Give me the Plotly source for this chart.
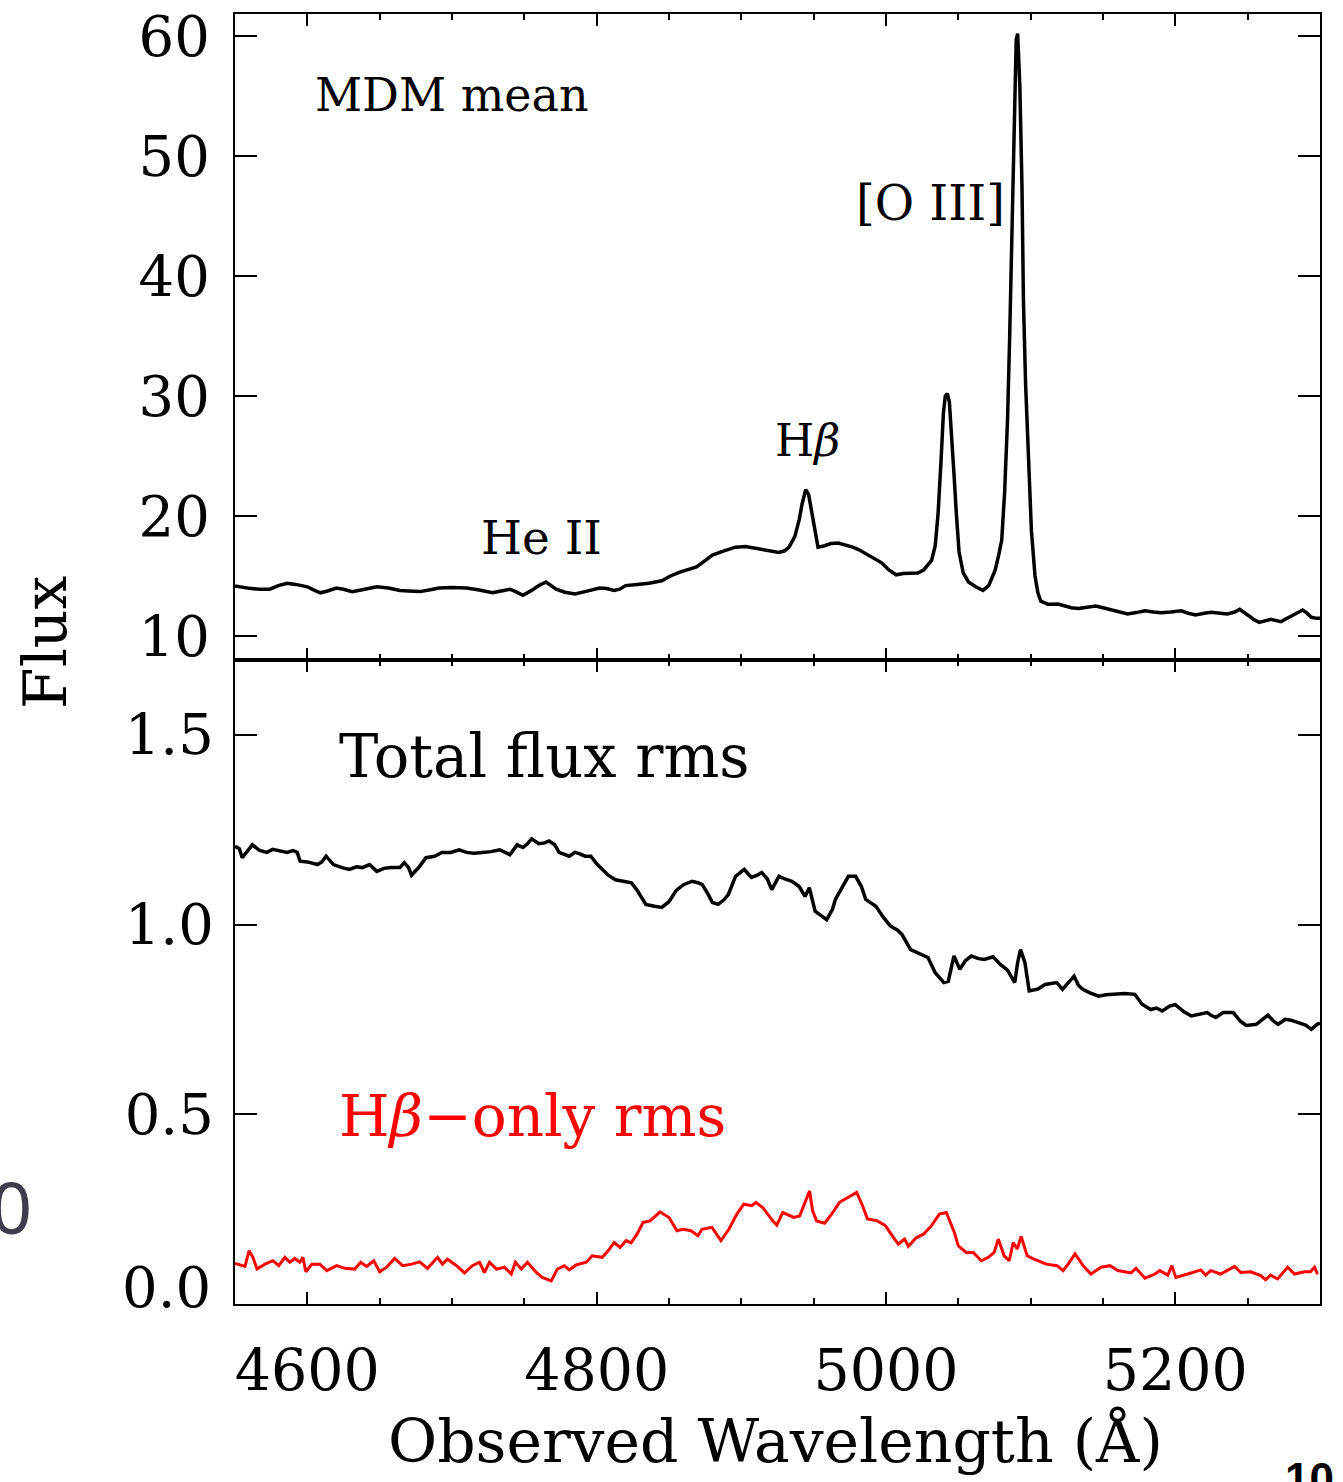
import plotly.graph_objects as go

# ---------------- data ----------------
mean_wave = [4550, 4555, 4560, 4567, 4574, 4580, 4586, 4592, 4600, 4605, 4609, 4614, 4620, 4625, 4631,
             4638, 4648, 4656, 4664, 4670, 4678, 4685, 4691, 4700, 4710, 4718, 4728, 4734, 4740, 4744,
             4749, 4755, 4760, 4765, 4769, 4772, 4778, 4785, 4792, 4802, 4807, 4812, 4816, 4820, 4828,
             4836, 4845, 4851, 4857, 4863, 4869, 4874, 4880, 4888, 4896, 4903, 4910, 4918, 4926, 4930,
             4933, 4937, 4940, 4942, 4944.5, 4946.5, 4948.6, 4951, 4953, 4957, 4962, 4967, 4972, 4977,
             4981, 4988, 4994, 4997, 5002, 5007, 5012, 5018, 5022, 5026, 5029, 5031.5, 5034, 5036, 5038,
             5039.7, 5041, 5042.4, 5043.8, 5045.2, 5047, 5048.6, 5050.5, 5053.4, 5057, 5062, 5067, 5071,
             5075.5, 5078, 5080, 5082, 5084, 5085.5, 5086.5, 5088, 5089, 5090, 5091, 5092.5, 5094, 5095,
             5096.5, 5098.5, 5100.5, 5103, 5105, 5107, 5112, 5119, 5124, 5128, 5133, 5138, 5145, 5150,
             5156, 5162, 5167, 5173, 5179, 5185, 5190, 5197, 5204, 5209, 5214, 5220, 5225, 5231, 5236,
             5241, 5244.5, 5250, 5254, 5258, 5262, 5266, 5269, 5273, 5276, 5280, 5284, 5288, 5291, 5294,
             5298, 5300]
mean_flux = [14.17, 14.05, 13.97, 13.9, 13.9, 14.2, 14.4, 14.3, 14.1, 13.8, 13.6, 13.75, 14.0, 13.9, 13.7,
             13.85, 14.1, 14.0, 13.8, 13.75, 13.7, 13.85, 14.0, 14.05, 14.0, 13.85, 13.6, 13.75, 13.9, 13.7,
             13.4, 13.8, 14.2, 14.5, 14.2, 13.9, 13.65, 13.5, 13.7, 14.0, 13.95, 13.8, 13.9, 14.2, 14.3,
             14.4, 14.6, 15.0, 15.3, 15.5, 15.75, 16.2, 16.75, 17.1, 17.4, 17.45, 17.3, 17.15, 16.97, 17.1,
             17.4, 18.3, 19.7, 21.0, 22.2, 21.8, 20.25, 18.5, 17.4, 17.5, 17.7, 17.75, 17.6, 17.4,
             17.2, 16.7, 16.3, 16.1, 15.5, 15.1, 15.2, 15.25, 15.25, 15.5, 15.9, 16.3, 17.5, 20.2, 24.5,
             28.6, 30.0, 30.2, 29.5, 27.2, 23.5, 20.25, 17.0, 15.25, 14.5, 14.1, 13.8, 14.2,
             15.5, 16.8, 18.0, 22.0, 28.0, 35.0, 40.3, 47.8, 54.9, 59.7, 60.2, 55.9, 47.4, 38.0,
             31.0, 24.0, 18.8, 15.0, 13.6, 12.9, 12.64, 12.67, 12.5, 12.36, 12.3, 12.36, 12.5, 12.35,
             12.17, 12.0, 11.83, 11.95, 12.1, 12.0, 11.94, 12.0, 12.1, 11.9, 11.75, 11.9, 11.97, 11.9, 11.83,
             12.0, 12.22, 11.75, 11.4, 11.14, 11.3, 11.39, 11.3, 11.19, 11.4, 11.67, 11.95, 12.17, 11.9, 11.56,
             11.47, 11.47]

rms_wave = [4550, 4553, 4555, 4558, 4562, 4567, 4572, 4576, 4581, 4586, 4590, 4593, 4595, 4600, 4607,
            4610, 4613, 4616, 4618, 4624, 4629, 4634, 4638, 4643, 4648, 4653, 4658, 4664, 4667, 4670,
            4672, 4677, 4682, 4688, 4693, 4699, 4705, 4710, 4715, 4721, 4727, 4733, 4737, 4740, 4745,
            4749, 4752, 4755, 4760, 4764, 4767, 4771, 4774, 4778, 4781, 4785, 4788, 4792, 4796, 4800,
            4804, 4808, 4813, 4818, 4824, 4828, 4834, 4840, 4845, 4850, 4855, 4860, 4866, 4870, 4873,
            4877, 4880, 4884, 4888, 4891, 4896, 4902, 4907, 4911, 4914, 4918, 4921, 4926, 4930, 4935,
            4940, 4944, 4947, 4951, 4955, 4959, 4963, 4965, 4970, 4974, 4979, 4983, 4986, 4990, 4993,
            4998, 5003, 5008, 5011, 5017, 5022, 5029, 5034, 5040, 5043, 5047, 5051, 5055, 5059, 5064,
            5068, 5074, 5079, 5084, 5089, 5091, 5093, 5096, 5099, 5105, 5110, 5114, 5118, 5122, 5127,
            5130, 5133, 5136, 5141, 5147, 5152, 5158, 5165, 5172, 5177, 5183, 5187, 5191, 5196, 5200,
            5206, 5211, 5217, 5222, 5225, 5228, 5233, 5240, 5245, 5249, 5256, 5260, 5264, 5268, 5271,
            5276, 5280, 5284, 5290, 5294, 5298, 5300]
rms_total = [1.206, 1.20, 1.176, 1.19, 1.21, 1.195, 1.19, 1.198, 1.193, 1.19, 1.195, 1.19, 1.167, 1.165, 1.158,
             1.165, 1.18, 1.165, 1.158, 1.15, 1.145, 1.152, 1.15, 1.158, 1.14, 1.148, 1.15, 1.15, 1.163, 1.15,
             1.13, 1.15, 1.176, 1.18, 1.19, 1.19, 1.197, 1.19, 1.188, 1.19, 1.192, 1.197, 1.19, 1.184, 1.21,
             1.203, 1.212, 1.226, 1.213, 1.215, 1.22, 1.21, 1.19, 1.183, 1.18, 1.19, 1.187, 1.18, 1.18, 1.16,
             1.145, 1.13, 1.118, 1.115, 1.11, 1.09, 1.053, 1.048, 1.045, 1.06, 1.09, 1.105, 1.114, 1.11, 1.105,
             1.08, 1.058, 1.053, 1.065, 1.079, 1.127, 1.145, 1.124, 1.13, 1.137, 1.12, 1.092, 1.127, 1.12, 1.114,
             1.10, 1.074, 1.097, 1.035, 1.025, 1.013, 1.04, 1.066, 1.10, 1.127, 1.127, 1.10, 1.066, 1.055, 1.048,
             1.02, 0.996, 0.985, 0.974, 0.934, 0.925, 0.913, 0.873, 0.847, 0.85, 0.917, 0.882, 0.905, 0.917, 0.91,
             0.908, 0.915, 0.895, 0.88, 0.847, 0.90, 0.934, 0.90, 0.825, 0.83, 0.842, 0.845, 0.847, 0.829, 0.85,
             0.864, 0.84, 0.829, 0.82, 0.811, 0.815, 0.816, 0.818, 0.816, 0.79, 0.776, 0.78, 0.772, 0.785, 0.789,
             0.77, 0.759, 0.765, 0.768, 0.76, 0.755, 0.768, 0.768, 0.745, 0.734, 0.737, 0.75, 0.761, 0.745, 0.737,
             0.75, 0.748, 0.743, 0.735, 0.724, 0.737, 0.74]

hb_wave = [4550.0, 4556.9, 4559.7, 4562.4, 4565.2, 4570.7, 4576.2, 4580.3, 4584.5, 4587.9, 4591.4, 4594.8,
           4596.9, 4599.0, 4603.1, 4608.6, 4613.4, 4620.3, 4625.9, 4632.8, 4636.9, 4641.0, 4645.9, 4650.0,
           4654.8, 4660.3, 4665.9, 4672.1, 4677.6, 4683.1, 4690.0, 4693.4, 4696.9, 4703.1, 4708.6, 4714.1,
           4719.0, 4722.4, 4725.9, 4730.7, 4736.2, 4741.0, 4743.8, 4747.9, 4752.1, 4758.3, 4762.4, 4768.6,
           4772.8, 4777.6, 4781.0, 4785.9, 4792.8, 4796.9, 4803.8, 4807.9, 4812.1, 4816.2, 4820.3, 4823.8,
           4827.9, 4832.1, 4836.9, 4843.8, 4850.0, 4855.5, 4859.7, 4865.2, 4870.0, 4872.8, 4879.7, 4885.9,
           4891.4, 4896.9, 4901.7, 4907.2, 4910.0, 4914.8, 4921.7, 4924.5, 4928.6, 4936.2, 4940.3, 4943.1,
           4947.2, 4949.3, 4952.1, 4957.6, 4962.4, 4967.9, 4974.1, 4979.7, 4983.8, 4987.2, 4994.1, 4999.7,
           5005.2, 5008.6, 5012.8, 5015.5, 5021.0, 5025.9, 5031.4, 5036.9, 5041.7, 5047.2, 5050.0, 5055.5,
           5060.3, 5065.9, 5070.7, 5074.8, 5077.6, 5081.7, 5085.2, 5087.9, 5090.7, 5093.4, 5097.6, 5102.4,
           5110.7, 5118.3, 5122.4, 5125.9, 5130.7, 5136.2, 5141.7, 5148.6, 5154.8, 5160.3, 5169.3, 5172.8,
           5179.0, 5185.9, 5189.3, 5194.8, 5197.6, 5200.3, 5208.6, 5217.6, 5221.0, 5224.5, 5231.4, 5241.0,
           5245.2, 5252.1, 5259.0, 5262.4, 5265.9, 5270.7, 5277.6, 5282.4, 5289.3, 5293.4, 5296.2, 5298.3]
rms_hbeta = [0.107, 0.099, 0.140, 0.123, 0.092, 0.105, 0.114, 0.101, 0.123, 0.110, 0.120, 0.110,
             0.123, 0.085, 0.105, 0.105, 0.088, 0.101, 0.094, 0.092, 0.110, 0.099, 0.114, 0.085,
             0.097, 0.120, 0.101, 0.105, 0.111, 0.094, 0.123, 0.105, 0.118, 0.101, 0.082, 0.101,
             0.110, 0.083, 0.110, 0.092, 0.097, 0.079, 0.110, 0.092, 0.110, 0.083, 0.070, 0.061,
             0.092, 0.101, 0.090, 0.103, 0.110, 0.127, 0.123, 0.140, 0.162, 0.149, 0.167, 0.161,
             0.184, 0.215, 0.219, 0.243, 0.228, 0.193, 0.197, 0.193, 0.180, 0.197, 0.202, 0.167,
             0.197, 0.237, 0.263, 0.259, 0.268, 0.254, 0.219, 0.208, 0.241, 0.228, 0.232, 0.259,
             0.298, 0.245, 0.219, 0.213, 0.237, 0.268, 0.281, 0.294, 0.259, 0.224, 0.219, 0.206,
             0.175, 0.158, 0.171, 0.152, 0.175, 0.184, 0.206, 0.237, 0.241, 0.189, 0.153, 0.136,
             0.136, 0.114, 0.123, 0.136, 0.171, 0.127, 0.114, 0.162, 0.145, 0.178, 0.127, 0.118,
             0.105, 0.101, 0.088, 0.105, 0.132, 0.101, 0.079, 0.097, 0.101, 0.088, 0.082, 0.094,
             0.068, 0.079, 0.088, 0.076, 0.101, 0.070, 0.079, 0.090, 0.076, 0.088, 0.079, 0.099,
             0.083, 0.085, 0.075, 0.064, 0.076, 0.066, 0.097, 0.079, 0.085, 0.085, 0.097, 0.079]

top_ticks = [10, 20, 30, 40, 50, 60]
bottom_ticks = [0.0, 0.5, 1.0, 1.5]

# ---------------- figure ----------------
W, H = 1343, 1482
L, R, T, B = 235, 1320, 14, 1304
FONT = "DejaVu Serif"

def px(x):
    return (x - L) / (R - L)

def py(y):
    return (B - y) / (B - T)

fig = go.Figure()
fig.add_trace(go.Scatter(x=mean_wave, y=mean_flux, mode="lines",
                         line=dict(color="black", width=3.5), xaxis="x", yaxis="y", showlegend=False))
fig.add_trace(go.Scatter(x=rms_wave, y=rms_total, mode="lines",
                         line=dict(color="black", width=3.5), xaxis="x2", yaxis="y2", showlegend=False))
fig.add_trace(go.Scatter(x=hb_wave, y=rms_hbeta, mode="lines",
                         line=dict(color="#ff0000", width=3), xaxis="x2", yaxis="y2", showlegend=False))

split = (B - 660) / (B - T)

xcommon = dict(range=[4550, 5300], showline=True, linecolor="black", linewidth=2,
               mirror="allticks", ticks="inside", ticklen=12, tickwidth=2, tickcolor="black",
               tickmode="linear", tick0=4600, dtick=200, showgrid=False, zeroline=False,
               automargin=False,
               minor=dict(ticks="inside", ticklen=6, tickwidth=2, tickcolor="black",
                          dtick=50, tick0=4550, showgrid=False))
ycommon = dict(showline=True, linecolor="black", linewidth=2, mirror="allticks",
               ticks="inside", ticklen=22, tickwidth=2, tickcolor="black",
               showgrid=False, zeroline=False, automargin=False,
               tickfont=dict(family=FONT, size=56, color="black"))

# the 0.0 label of the lower panel sits raised above its tick in the reference,
# so it is drawn as an annotation instead of a regular tick label
bottom_text = ["" if v == 0 else "%.1f" % v for v in bottom_ticks]

fig.update_layout(
    width=W, height=H,
    margin=dict(l=L, r=W - R, t=T, b=H - B, pad=0, autoexpand=False),
    paper_bgcolor="white", plot_bgcolor="white",
    font=dict(family=FONT, color="black"),
    xaxis=dict(**xcommon, domain=[0, 1], anchor="y", showticklabels=False, matches="x2"),
    xaxis2=dict(**xcommon, domain=[0, 1], anchor="y2", showticklabels=True,
                ticklabelstandoff=16, tickfont=dict(family=FONT, size=57, color="black")),
    yaxis=dict(**ycommon, domain=[split, 1], anchor="x", range=[8, 61.83],
               ticklabelstandoff=12,
               tickvals=top_ticks, ticktext=[str(v) for v in top_ticks]),
    yaxis2=dict(**ycommon, domain=[0, split], anchor="x2", range=[0, 1.697],
                ticklabelstandoff=8,
                tickvals=bottom_ticks, ticktext=bottom_text),
)

ann = []
# lower-panel 0.0 tick label (raised, as in the reference)
ann.append(dict(text="%.1f" % bottom_ticks[0], x=px(213), y=py(1287), xref="paper", yref="paper",
                xanchor="right", yanchor="middle", showarrow=False,
                font=dict(family=FONT, size=56, color="black")))
# panel labels
ann.append(dict(text="MDM mean", x=4603.8, y=55.1, xref="x", yref="y", xanchor="left", yanchor="middle",
                showarrow=False, font=dict(family=FONT, size=46, color="black")))
ann.append(dict(text="[O III]", x=5030.7, y=46.1, xref="x", yref="y", xanchor="center", yanchor="middle",
                showarrow=False, font=dict(family=FONT, size=48, color="black")))
ann.append(dict(text="H<i>β</i>", x=4945.9, y=26.3, xref="x", yref="y", xanchor="center", yanchor="middle",
                showarrow=False, font=dict(family=FONT, size=45, color="black")))
ann.append(dict(text="He II", x=4761.7, y=18.2, xref="x", yref="y", xanchor="center", yanchor="middle",
                showarrow=False, font=dict(family=FONT, size=47, color="black")))
ann.append(dict(text="Total flux rms", x=4620.3, y=1.442, xref="x2", yref="y2", xanchor="left", yanchor="middle",
                showarrow=False, font=dict(family=FONT, size=59, color="black")))
ann.append(dict(text="H<i>β</i>−only rms", x=4620.3, y=0.495, xref="x2", yref="y2", xanchor="left",
                yanchor="middle", showarrow=False, font=dict(family=FONT, size=58, color="#ff0000")))
# axis titles
ann.append(dict(text="Observed Wavelength (Å)", x=px(775), y=py(1441), xref="paper", yref="paper",
                xanchor="center", yanchor="middle", showarrow=False,
                font=dict(family=FONT, size=60, color="black")))
ann.append(dict(text="Flux", x=px(45), y=py(643), xref="paper", yref="paper", textangle=-90,
                xanchor="center", yanchor="middle", showarrow=False,
                font=dict(family=FONT, size=60, color="black")))
# cropped fragments at the image edges (cut off in the reference as well)
ann.append(dict(text="0", x=px(34), y=py(1206), xref="paper", yref="paper", xanchor="right",
                yanchor="middle", showarrow=False, font=dict(family="Noto Sans", size=72, color="#3d3d4d")))
ann.append(dict(text="<b>10</b>", x=px(1283), y=py(1452), xref="paper", yref="paper", xanchor="left",
                yanchor="top", showarrow=False, font=dict(family="Liberation Sans", size=44, color="black")))
fig.update_layout(annotations=ann)

fig.write_html("out.html")
